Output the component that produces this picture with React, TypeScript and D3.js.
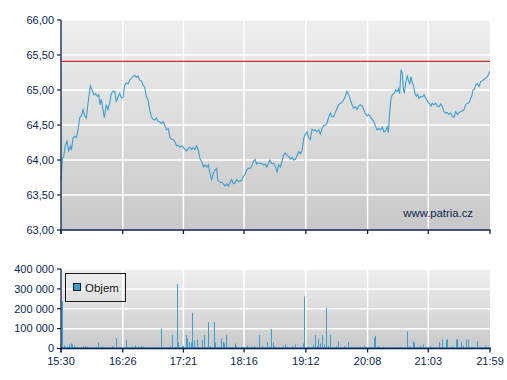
import React from "react";
import * as d3 from "d3";

// ---- data ----
const timeLabels = ["15:30", "16:26", "17:21", "18:16", "19:12", "20:08", "21:03", "21:59"];
const priceTicks = [63, 63.5, 64, 64.5, 65, 65.5, 66];
const volumeTicks = [0, 100000, 200000, 300000, 400000];
const referencePrice = 65.41;
const watermark = "www.patria.cz";
const legendLabel = "Objem";

// minutes since 15:30
const priceMinutes = [
  0, 1.2, 2.4, 3.9, 5.4, 6.9, 8.5, 9.4, 10.9, 12.4, 13.9, 15.4, 16.9, 18.4, 20.0, 21.5, 23.0, 24.5, 26.6, 28.1,
  29.9, 31.4, 33.0, 34.2, 35.4, 36.6, 37.8, 39.3, 41.1, 42.6, 44.1, 45.6, 47.2, 48.7, 50.2, 51.7, 53.2, 54.7, 56.2, 57.7,
  59.2, 60.8, 62.3, 63.8, 65.3, 66.8, 68.3, 69.8, 71.3, 72.9, 74.4, 75.9, 77.4, 78.9, 80.4, 81.9, 83.4, 85.0, 86.5, 88.0,
  89.5, 91.0, 92.5, 94.0, 95.8, 97.3, 98.8, 100.4, 101.9, 103.4, 104.9, 106.4, 107.9, 109.4, 110.9, 112.4, 114.0, 115.5, 117.0, 118.5,
  120.0, 121.5, 123.0, 124.5, 126.0, 127.6, 129.1, 130.6, 132.1, 133.6, 135.1, 136.6, 138.1, 139.7, 141.2, 142.1, 143.6, 145.7, 147.2, 148.7,
  150.2, 151.7, 153.3, 154.8, 156.3, 157.8, 159.3, 160.8, 162.3, 163.8, 165.3, 166.9, 168.4, 169.9, 171.4, 172.9, 174.4, 175.9, 177.4, 178.9,
  180.5, 182.0, 183.5, 185.0, 186.5, 188.0, 189.5, 191.0, 192.8, 194.4, 195.9, 197.4, 198.9, 200.4, 201.9, 203.4, 204.9, 206.4, 208.0, 209.5,
  211.0, 212.5, 214.0, 215.5, 217.0, 218.5, 220.1, 221.6, 223.1, 224.6, 226.1, 227.6, 229.1, 230.6, 232.1, 233.7, 235.2, 236.7, 238.2, 239.7,
  241.2, 242.7, 244.2, 245.7, 247.3, 248.8, 250.3, 251.8, 253.3, 254.8, 256.3, 257.8, 259.3, 260.9, 262.4, 263.9, 265.4, 266.9, 268.4, 269.9,
  271.4, 272.9, 274.5, 276.0, 277.5, 279.0, 280.5, 282.0, 283.5, 285.0, 286.6, 288.1, 289.9, 291.4, 292.9, 294.4, 295.9, 296.8, 298.0, 299.2,
  300.5, 302.0, 303.5, 305.0, 305.9, 307.1, 308.3, 309.5, 310.4, 311.3, 312.5, 314.1, 315.0, 316.2, 317.4, 318.6, 319.5, 321.0, 322.2, 323.4,
  324.6, 326.1, 327.7, 329.2, 330.1, 331.3, 333.1, 334.3, 335.5, 336.7, 338.2, 339.8, 341.3, 342.8, 344.3, 345.8, 347.3, 348.8, 350.3, 351.8,
  353.4, 354.9, 356.4, 357.9, 359.4, 360.9, 362.4, 363.9, 365.4, 367.0, 368.5, 370.0, 371.5, 372.4, 373.6, 374.8, 376.0, 377.5, 379.0, 380.6,
  382.1, 383.6, 385.1, 386.6, 388.1, 389.0,
];
const prices = [
  63.71, 64.02, 64.05, 64.21, 64.27, 64.13, 64.2, 64.14, 64.31, 64.34, 64.32, 64.43, 64.6, 64.63, 64.72, 64.63, 64.6, 64.81, 65.06, 65.0,
  64.93, 64.95, 64.91, 64.93, 64.79, 64.87, 64.74, 64.6, 64.79, 64.72, 64.81, 64.95, 64.98, 64.98, 64.83, 64.9, 64.95, 64.89, 64.89, 65.07,
  65.1, 65.09, 65.14, 65.17, 65.19, 65.21, 65.18, 65.2, 65.14, 65.13, 65.07, 65.04, 64.9, 64.86, 64.72, 64.62, 64.58, 64.57, 64.6, 64.55,
  64.55, 64.52, 64.55, 64.5, 64.43, 64.45, 64.32, 64.3, 64.29, 64.26, 64.2, 64.21, 64.18, 64.2, 64.18, 64.15, 64.13, 64.17, 64.18, 64.15,
  64.18, 64.15, 64.2, 64.14, 64.02, 63.98, 63.9, 63.93, 63.9, 63.93, 63.81, 63.72, 63.81, 63.86, 63.88, 63.71, 63.69, 63.68, 63.66, 63.63,
  63.66, 63.63, 63.68, 63.72, 63.66, 63.67, 63.72, 63.69, 63.7, 63.71, 63.76, 63.8, 63.86, 63.88, 63.88, 63.91, 63.98, 64.01, 63.94, 63.96,
  63.95, 63.95, 63.93, 63.94, 63.9, 63.95, 64.0, 63.95, 63.95, 63.91, 63.83, 63.93, 63.9, 63.98, 64.07, 64.1, 64.07, 64.05, 64.01, 64.04,
  64.0, 64.01, 64.06, 64.12, 64.09, 64.13, 64.31, 64.37, 64.4, 64.32, 64.29, 64.44, 64.42, 64.43, 64.4, 64.43, 64.37, 64.45, 64.49, 64.5,
  64.53, 64.61, 64.67, 64.62, 64.62, 64.68, 64.74, 64.79, 64.81, 64.82, 64.86, 64.91, 64.98, 64.93, 64.86, 64.79, 64.74, 64.76, 64.72, 64.77,
  64.79, 64.77, 64.72, 64.66, 64.63, 64.65, 64.62, 64.58, 64.56, 64.49, 64.43, 64.45, 64.43, 64.47, 64.4, 64.42, 64.47, 64.39, 64.67, 64.88,
  64.93, 64.95, 65.0, 64.98, 65.02, 64.95, 65.29, 65.24, 65.02, 64.95, 65.1, 65.21, 65.14, 65.09, 65.19, 65.1, 65.07, 64.95, 64.91, 64.94,
  64.88, 64.91, 64.9, 64.93, 64.9, 64.87, 64.82, 64.8, 64.77, 64.81, 64.79, 64.81, 64.77, 64.76, 64.8, 64.76, 64.69, 64.67, 64.68, 64.65,
  64.67, 64.62, 64.61, 64.69, 64.65, 64.68, 64.69, 64.7, 64.72, 64.79, 64.81, 64.82, 64.88, 64.91, 65.0, 65.01, 65.07, 65.09, 65.05, 65.12,
  65.13, 65.15, 65.17, 65.19, 65.24, 65.27,
];

const volumeMinutes = [
  1.2, 2.7, 4.0, 5.2, 6.3, 7.3, 8.8, 10.2, 11.8, 13.0, 14.5, 16.5, 18.0, 19.9, 21.8, 23.6, 25.5, 27.5, 29.5, 31.5,
  33.8, 36.9, 39.0, 41.7, 44.0, 46.2, 48.0, 49.9, 51.5, 53.5, 56.0, 58.9, 61.5, 64.1, 67.1, 70.1, 72.5, 74.6, 77.0, 80.7,
  83.5, 86.1, 88.5, 91.0, 93.0, 95.2, 97.0, 98.8, 100.9, 103.4, 105.5, 106.4, 108.0, 109.4, 110.9, 113.1, 114.5, 116.1, 117.6, 119.1,
  120.6, 122.0, 123.6, 125.5, 127.6, 129.9, 131.5, 133.6, 135.1, 137.0, 138.7, 139.6, 141.5, 143.0, 144.8, 146.6, 147.8, 149.4, 151.0, 153.2,
  155.5, 157.8, 158.7, 161.0, 163.2, 166.0, 168.4, 170.5, 172.3, 175.0, 177.5, 179.8, 182.3, 184.5, 186.5, 188.5, 190.7, 192.0, 193.1, 195.5,
  198.0, 200.0, 201.6, 203.1, 204.9, 207.0, 209.5, 211.0, 212.5, 215.0, 217.0, 219.2, 220.6, 222.8, 224.3, 226.5, 228.8, 230.6, 231.9, 233.3,
  234.9, 236.9, 238.5, 240.0, 242.4, 243.9, 246.0, 247.5, 249.4, 251.5, 253.0, 255.0, 256.9, 258.5, 260.5, 263.0, 265.1, 267.0, 269.0, 271.1,
  273.0, 275.0, 277.5, 280.0, 281.5, 283.8, 284.7, 286.0, 287.7, 290.0, 292.3, 295.0, 297.5, 299.0, 301.1, 303.0, 304.7, 306.0, 307.4, 309.5,
  312.0, 314.0, 315.8, 317.5, 318.8, 320.0, 322.0, 323.5, 325.5, 327.0, 328.5, 330.5, 332.5, 334.6, 337.0, 339.1, 341.0, 343.0, 344.5, 345.7,
  347.0, 348.8, 350.2, 352.0, 354.3, 356.0, 357.9, 358.8, 360.5, 362.4, 364.8, 367.0, 368.8, 370.5, 372.5, 374.0, 375.4, 376.9, 378.5, 379.9,
  382.0, 384.5, 386.0, 387.5, 388.6,
];
const volumes = [
  239000, 15000, 6000, 10000, 5000, 20000, 25000, 20000, 15000, 4000, 8000, 3000, 6000, 12000, 12000, 10000, 4000, 5000, 3000, 6000,
  30000, 10000, 4000, 8000, 3000, 12000, 5000, 53000, 4000, 6000, 3000, 42000, 5000, 10000, 15000, 10000, 12000, 10000, 4000, 5000,
  3000, 8000, 4000, 98000, 3000, 8000, 4000, 12000, 68000, 8000, 324000, 30000, 5000, 12000, 12000, 68000, 50000, 33000, 30000, 180000,
  42000, 6000, 45000, 5000, 42000, 68000, 6000, 133000, 12000, 5000, 133000, 30000, 5000, 8000, 50000, 33000, 25000, 68000, 4000, 8000,
  5000, 25000, 12000, 4000, 8000, 5000, 15000, 4000, 10000, 12000, 5000, 68000, 12000, 4000, 33000, 5000, 98000, 30000, 12000, 4000,
  5000, 3000, 12000, 20000, 8000, 4000, 12000, 5000, 20000, 4000, 6000, 25000, 261000, 8000, 5000, 6000, 20000, 68000, 12000, 50000,
  25000, 68000, 20000, 205000, 12000, 68000, 5000, 4000, 12000, 37000, 8000, 4000, 12000, 5000, 33000, 4000, 8000, 5000, 4000, 8000,
  5000, 15000, 4000, 5000, 4000, 55000, 63000, 5000, 12000, 4000, 8000, 3000, 5000, 4000, 8000, 5000, 8000, 4000, 8000, 5000,
  4000, 85000, 12000, 5000, 37000, 30000, 5000, 4000, 12000, 5000, 20000, 4000, 5000, 12000, 4000, 8000, 5000, 33000, 6000, 45000,
  5000, 45000, 45000, 6000, 12000, 5000, 45000, 45000, 5000, 33000, 12000, 45000, 45000, 4000, 6000, 5000, 5000, 38000, 4000, 5000,
  6000, 12000, 5000, 10000, 8000,
];

// ---- layout ----
const W = 507;
const H = 380;
const left = 61;
const right = 490;
const mainTop = 20;
const mainBottom = 230;
const volTop = 269;
const volBottom = 348.5;

const navy = "#0b1f4f";
const lineBlue = "#3c9fcf";
const font = "'Liberation Sans', Arial, sans-serif";

const t0 = new Date(2000, 0, 1, 15, 30);
const toDate = (m: number) => new Date(t0.getTime() + m * 60000);
const parseHM = (s: string) => {
  const [h, mm] = s.split(":").map(Number);
  return new Date(2000, 0, 1, h, mm);
};

export default function App() {
  const x = d3
    .scaleTime()
    .domain([parseHM(timeLabels[0]), parseHM(timeLabels[timeLabels.length - 1])])
    .range([left, right]);
  const y = d3.scaleLinear().domain([63, 66]).range([mainBottom, mainTop]);
  const yv = d3.scaleLinear().domain([0, 400000]).range([volBottom, volTop]);

  const pts = priceMinutes.map((m, i) => [toDate(m), prices[i]] as [Date, number]);
  const line = d3
    .line<[Date, number]>()
    .x((d) => x(d[0]))
    .y((d) => y(d[1]));

  const fmtPrice = (v: number) => v.toFixed(2).replace(".", ",");
  const fmtVol = (v: number) => d3.format(",")(v).replace(/,/g, " ");
  const tickDates = timeLabels.map(parseHM);

  return (
    <svg width={W} height={H} style={{ position: "absolute", left: 0, top: 0 }} fontFamily={font}>
      <defs>
        <linearGradient id="bgMain" x1="0" y1="0" x2="0" y2="1">
          <stop offset="0%" stopColor="#efefef" />
          <stop offset="100%" stopColor="#c8c8c8" />
        </linearGradient>
        <linearGradient id="bgVol" x1="0" y1="0" x2="0" y2="1">
          <stop offset="0%" stopColor="#efefef" />
          <stop offset="100%" stopColor="#c9c9c9" />
        </linearGradient>
        <clipPath id="clipMain">
          <rect x={left} y={mainTop} width={right - left} height={mainBottom - mainTop} />
        </clipPath>
      </defs>
      <rect width={W} height={H} fill="#ffffff" />

      {/* main panel */}
      <rect x={left} y={mainTop} width={right - left} height={mainBottom - mainTop} fill="url(#bgMain)" />
      {priceTicks.map((v) => (
        <line key={"hg" + v} x1={left} x2={right} y1={y(v)} y2={y(v)} stroke="#ffffff" strokeWidth={1.5} />
      ))}
      {tickDates.slice(1, -1).map((d, i) => (
        <line key={"vg" + i} x1={x(d)} x2={x(d)} y1={mainTop} y2={mainBottom} stroke="#ffffff" strokeWidth={1.5} />
      ))}
      <line
        x1={left}
        x2={right}
        y1={y(referencePrice)}
        y2={y(referencePrice)}
        stroke="#c8322d"
        strokeWidth={1.2}
      />
      <path d={line(pts) || ""} fill="none" stroke={lineBlue} strokeWidth={1.1} clipPath="url(#clipMain)" />
      <text x={473} y={217} textAnchor="end" fontSize={11.3} fill={navy}>
        {watermark}
      </text>
      {/* main axes */}
      <line x1={left} x2={left} y1={mainTop} y2={mainBottom + 4} stroke={navy} strokeWidth={1.3} />
      <line x1={left} x2={right + 0.5} y1={mainBottom} y2={mainBottom} stroke={navy} strokeWidth={1.3} />
      {priceTicks.map((v) => (
        <g key={"yt" + v}>
          <line x1={left - 4} x2={left} y1={y(v)} y2={y(v)} stroke={navy} strokeWidth={1.2} />
          <text x={54} y={y(v)} dy="0.35em" textAnchor="end" fontSize={11} fill={navy}>
            {fmtPrice(v)}
          </text>
        </g>
      ))}
      {tickDates.map((d, i) => (
        <line key={"xt" + i} x1={x(d)} x2={x(d)} y1={mainBottom} y2={mainBottom + 4} stroke={navy} strokeWidth={1.3} />
      ))}

      {/* volume panel */}
      <rect x={left} y={volTop} width={right - left} height={volBottom - volTop} fill="url(#bgVol)" />
      {volumeTicks.slice(1).map((v) => (
        <line key={"vh" + v} x1={left} x2={right} y1={yv(v)} y2={yv(v)} stroke="#ffffff" strokeWidth={1.5} />
      ))}
      {tickDates.slice(1, -1).map((d, i) => (
        <line key={"vv" + i} x1={x(d)} x2={x(d)} y1={volTop} y2={volBottom} stroke="#ffffff" strokeWidth={1.5} />
      ))}
      {volumeMinutes.map((m, i) => {
        const bx = x(toDate(m));
        const top = yv(volumes[i]);
        return (
          <rect key={"b" + i} x={Math.round(bx)} y={top} width={1} height={volBottom - top} fill={lineBlue} />
        );
      })}
      <line x1={left} x2={right} y1={volBottom - 1} y2={volBottom - 1} stroke={lineBlue} strokeWidth={1} opacity={0.6} />
      {/* legend */}
      <rect x={65.5} y={273.5} width={60} height={28} fill="none" stroke="#1a1a1a" strokeWidth={1} />
      <rect x={73.5} y={283.5} width={7} height={7} fill={lineBlue} stroke="#1a1a1a" strokeWidth={1} />
      <text x={85} y={291.5} fontSize={11.5} fill="#111111">
        {legendLabel}
      </text>
      {/* volume axes */}
      <line x1={left} x2={left} y1={volTop} y2={volBottom + 4} stroke={navy} strokeWidth={1.3} />
      <line x1={left} x2={right + 0.5} y1={volBottom} y2={volBottom} stroke={navy} strokeWidth={1.3} />
      {volumeTicks.map((v) => (
        <g key={"vt" + v}>
          <line x1={left - 4} x2={left} y1={yv(v)} y2={yv(v)} stroke={navy} strokeWidth={1.2} />
          <text x={54} y={yv(v)} dy="0.35em" textAnchor="end" fontSize={11} fill={navy}>
            {fmtVol(v)}
          </text>
        </g>
      ))}
      {tickDates.map((d, i) => (
        <g key={"vx" + i}>
          <line x1={x(d)} x2={x(d)} y1={volBottom} y2={volBottom + 4} stroke={navy} strokeWidth={1.3} />
          <text x={x(d)} y={364.5} textAnchor="middle" fontSize={11} fill={navy}>
            {timeLabels[i]}
          </text>
        </g>
      ))}
    </svg>
  );
}
